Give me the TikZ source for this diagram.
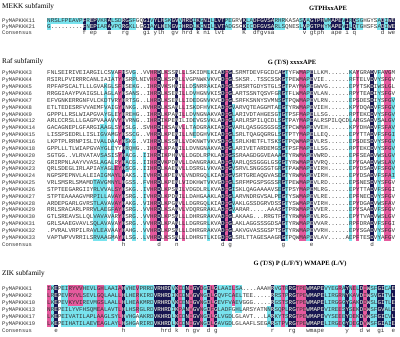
\documentclass[tikz,border=0pt]{standalone}
\usepackage{fontspec}
\setmainfont{Liberation Serif}
\newfontfamily\seqfont{Liberation Mono}
\usetikzlibrary{positioning}
\definecolor{alnavy}{HTML}{171551}
\definecolor{alpink}{HTML}{E65A9E}
\definecolor{alcyan}{HTML}{78E3EE}
\newcommand\seqsize{\seqfont\fontsize{5.92}{6}\selectfont\fontdimen2\font=0pt\fontdimen7\font=0pt\relax}
\newcommand\labsize{\seqfont\fontsize{5.5}{6}\selectfont}

\def\mekkseq{11/{NRSLFPEAVP FREPVKRALS DRGSFGQGIV YLHSKGVVHR DIKGNILLVT PEGRVKLADF GVSARHRKAS ASVAGTPHWM APEVIRQSGH GYSADIWE},
21/{G......... FNEPIARAVP QRGKLLGGIA YLHENGVIHR DLKCNILLVT ADGSCKICDF GVSARLSQNE SLVPGTPHYM APEVILQTGH SFSADIWE}}
\def\mekkcyan{0/9/0/0, 0/0/1/1, 11/11/0/1, 14/16/0/1, 18/20/0/1, 23/24/0/1, 29/29/0/1, 33/34/0/1, 37/37/0/1, 41/41/0/1, 43/43/0/1, 46/46/0/1, 50/51/0/1, 56/57/0/1, 64/66/0/1, 71/71/0/1, 73/73/0/1, 78/79/0/1, 83/83/0/1, 85/85/0/1, 87/88/0/1, 93/93/0/1, 95/95/0/1}
\def\mekknavy{10/10/0/1, 12/13/0/1, 17/17/0/1, 21/22/0/1, 27/28/0/1, 30/32/0/1, 35/36/0/1, 38/40/0/1, 42/42/0/1, 44/45/0/1, 47/49/0/1, 55/55/0/1, 58/63/0/1, 72/72/0/1, 74/77/0/1, 80/82/0/1, 84/84/0/1, 86/86/0/1, 94/94/0/1, 96/97/0/1}

\def\rafseq{3/{FNLSEIRIVE IARGILCSVA FHSVG..VVH RDLKSSNLLL SKIDMLKIAD FGLSRMTDEV FGCDCAGTYF WMAPELLKM. .....KAYGR ADVFAVGM},
4/{RSIRLPVIRR RCANLIAIAT YHSRPLNIVH RDLKSPNLLV GPNWKVKVCD FGLSKSR..T SSCSSKGTPE WMAPEVIE.. .....RFTEL VDVYSFGV},
5/{RPFAPSCALT LLLGVAKGLS FHSEKG..IH RDVKSHNILL DSNRRAKIAD FGLSRSRTGD YSTGLSGTPA YMAPEGWVG. .....EPYTS KDIWSLGL},
6/{RRGGIAAYPV AIGSLLAGLA YHSANS..IH RDLKSENILL DVHGNVKISD FGLARTSSNT QSVFGRGTFL WMAPEVLAN. .....RPYTE ADIYSFGV},
7/{EFVGNKERRG NFVLCKDTVR YHRTSG..LH RDLKSENLLI DEDGNVKVCD FGLSRFKSNN YSVMNSGTPQ WMAPEVLRN. .....EPSDE SDIYSFGV},
8/{ETLTEDESRF VVAEMFVAIG YHNKG..NVH RDLKSANLLI SKDFHVKIAD FGVARVQTEA GGMTAEGTYR WMAPEVIEH. .....KPYDQ ADVFSFGV},
9/{GPPPLLRSLW IAPGVAYGLE YHREHG..IH RDLKPANILL DVNGNAKVAD FGLARIVDTA HGESGTGTPS FMAPELLSG. .....RPTEK CDVYSFGV},
12/{ARLCCRSLLL GAGPVAAAVV YHVRNG..IH RDIKPENILI DEVGSVKLAD FGLARLRSPI LQCDLSGTPA YMAPEALRSP ILQCDLARGS ADVSALGV},
14/{GACAGNEPLG FARGIAAGLS YHSLG..SVH RDIKSANVLL TADGRAKIAD FGVARLQASG GSGSGSGTPC WMAPEVVEH. .....KPYDH ADVFSFAV},
15/{LISSPSEDRL LISLIGVAMG YHSSCG..VH RDLKPENILL NEDGHVKIAD FGLSRLTQAG QGRGLSGTPT YMAPELLEQ. .....EPYTT ADVFSFGI},
16/{LKPTPLRRNP ISLIVALDAA YHSKG..VIH RDLKSSNLLV DKNWTVKVSD FGLSRLKHET FLTSKSGTPQ WMAPEVLRS. .....EPSDE SDVYSFGV},
18/{GPPLLLTLWI APGVAYGLEY YHRQHG..IH RDLKPANILL DVNGNAKVAD FGLARIVETA RDEMGSGTPS FMAPELLSG. .....RPTEK CDVYSFGV},
20/{SGTGG..VLR VATAVSASIS YHACG..IIH RDIKPHNVLL DGDLRPKLAD FGSSRAAGDG GVEAAAGTYR WMAPEVWRD. .....EPFSE ADVWSLGV},
22/{GRIRPNLAAY VVASLAGALR YHACG..IIH RDVKPDNVLL DANGRAKLAD FGVARLQSSG GGLGSGGTYR WMAPEVVRQ. .....EPYGA ADVWSLAV},
23/{QRLSDEGLIR LAPIAYAGLE YHSCG..IIH RDLKAENVLL DSRGLVKVAD FGVSRVLSNG GSGTGRGTPA WMAPEVIRH. .....EPYDS ADVFSFGV},
24/{NGPSPEPNVL ALEIAIGMAY LHAKS..IVH RDLKPENVLV NDRGQLKIAD FGVSRTGREA QGVASEGTYR WMAPEVIRH. .....EPYDS ADVFSFAI},
25/{VRLSMSRLSM AMDTAVGMNY LHGSS..FVH RDLKPENLVI DKHWTVKVGD FGLSRFMPGS PSGSSRGTPE WMAPEVLRD. .....EPSNE SDVYSFGV},
26/{STPTEEGARG IIYRLVVALS YHSKG..IVH RDLKPSNILV DGDLRLKVAD FGISKLQAGA AAAVSEGTPS YMAPEMLRG. .....EPYTT ADVFSFGI},
27/{STPTEAAAAG VMRPILLAVA YHSRG..IVH RDLKPDNILL DAHGAAKLAD FGLARVNDRG VSALPEGTYS WMAPEVLRE. .....EPFNE CDVYSFGV},
28/{ARDEPGARLG VRSTLAVAVA YHAKG..VIH RDLKPGNVLL DGRGQLKIAD FGVAKLGSSD GRVDSSGTYS WMAPEVIRH. .....EPYDG ADVWSFAV},
29/{RRLSRACARL PRRVLAEGFA YHSRG..VVH RDLKSANVLV DQRGRAKLAD FGVARAR... ..AAASGTPR WMAPEVVER. .....EPYSA ADVFSFGV},
30/{GTLSREAVSL LQLVAVAVAR YHSRG..VVH RDLKPSNLLL DHRGRAKVAD FGLAKAAG.. .RRGTFGTYR WMAPEVLRG. .....EPYTV ADVWSLGV},
31/{GRLSAAEGVA VLSQLAVAVA YHSRG..VVH RDLKPANLLL DGRGRLKVAD FGLAKLAGGS SSGDSAGTYR WMAPEVVAR. .....RPFDR ADVFSFGI},
32/{.PVRALVRPI LRAVLEAVAA YHAHG..VVH RDLKPSNLLL DHRGRAKVAD FGLAKVGVAS SGSPTSGTYR WMAPEVVRH. .....EPYSG ADVYSFGV},
33/{VAPTWPVVRR ILSRVAAGMA YHLSG..LVH RDLKSSNLLL DHRGTLKIGD FGLSRLTTAG ESAAGRGTPQ WMAPEVLAV. ....AEPFTE SDVYAFGV}}
\def\rafcyan{15/15/8/24, 13/14/16/24, 16/16/2/24, 18/18/0/24, 22/22/10/14, 24/24/0/24, 27/27/12/24, 41/41/2/9, 45/45/0/24, 52/52/5/20, 65/65/3/18, 67/67/0/24, 73/73/0/24, 85/85/0/24, 93/93/0/24, 97/97/4/15}
\def\rafpink{19/19/14/20, 20/20/0/10, 20/20/12/24, 29/30/0/24, 33/33/0/24, 38/38/0/6, 38/38/8/24, 50/50/0/24, 71/72/0/24, 87/87/0/24, 95/96/0/24}
\def\rafnavy{21/21/0/24, 31/31/0/24, 36/36/0/24, 49/49/0/24, 51/51/0/24, 66/66/0/24, 74/74/0/24, 91/91/0/24}

\def\zikseq{1/{IKEPEIRYVV HEVLGHLAAI AHVHEVPRRD VRHRDVKCDN IGVDGDLGLA AILSA....A AAHRVGTRRG TPEWMAPEVY EGRAYNELDI WSFGICAE},
2/{LREPEVRYVL SEVLGQLAAL LHLHERKIRD VRHRDIKCDN VGVNGDLGQV FCAELTEE.. ...RRSTPRG TPEWMAPELI RGRNYKAVDI WSVGITVL},
10/{LKEPEVKYVI REVMGSLAAL LHLHEAKMRD VRHRDVKCEN IGVNGDLGEV FVAEVGGG.. ...RGSTSRG TPEWMAPELI RGGGYGAKDD WSLGITLE},
13/{NREPEILYVF HSQMEALAVT LHLHSRGLRD VRHRDIKPAN VGVNGDFGLA DFGHLARSYA TNNRSQPLRG TPEWMAPEVI REESYSEKDD WSFGVALE},
17/{LKEPEIVATI LAPLAAGLSY LHVHGAAKRD VKHRDLKCDN IGVNGDLGLV GDLGLAVT.. .LARKYTSRG TPEWMAPEVY SEEEYDEKDV WSFGICVL},
19/{LKEPEIHATI LAEVEAGLAY LHSHGARIRD VKHRDLKCDN IGVNGDLGAV GDLGLAAFLS EGARSTPVRG TPEWMAPELI RGEQYDEGDV WSFGIAIE}}
\def\zikcyan{1/1/0/5, 4/5/0/5, 6/9/3/5, 10/13/0/5, 16/19/0/5, 22/24/0/5, 26/29/0/5, 35/35/0/5, 38/38/0/5, 44/44/0/5, 48/51/0/5, 53/54/0/3, 62/62/3/5, 64/65/0/5, 67/67/0/5, 78/81/0/5, 83/83/0/5, 85/85/0/5, 87/87/0/5, 91/92/0/5, 95/96/0/5}
\def\zikpink{0/0/0/5, 6/9/0/2, 14/15/0/5, 20/20/0/5, 25/25/0/3, 37/37/0/5, 40/40/0/5, 43/43/0/5, 46/46/0/5, 52/52/0/2, 66/66/0/5, 70/72/0/5, 82/82/0/5, 86/86/0/5, 89/89/0/5}
\def\ziknavy{2/2/0/5, 21/21/0/5, 30/34/0/5, 36/36/0/5, 39/39/0/5, 41/42/0/5, 45/45/0/5, 47/47/0/5, 63/63/0/5, 68/69/0/5, 73/77/0/5, 84/84/0/5, 88/88/0/5, 90/90/0/5, 93/94/0/5, 97/97/0/5}

\begin{document}
\begin{tikzpicture}[x=1pt, y=-1pt,
  seq/.style={font=\seqsize, text=black!80, anchor=base west, inner sep=0pt, yshift=-2pt},
  lab/.style={font=\labsize, text=black!80, anchor=base west, inner sep=0pt},
  head/.style={font=\fontsize{7.2}{8}\selectfont, anchor=west, inner sep=0pt},
  motif/.style={font=\bfseries\fontsize{6.5}{7}\selectfont, inner sep=0pt}
]
\useasboundingbox (0,0) rectangle (400,337);

\node[head] (mekkt) at (2,7) {MEKK subfamily};
\node[motif] (mekkm) at (328,8) {GTPHxxAPE};
\begin{scope}[shift={(47,21)}, x=3.55pt, y=-6pt]
  \foreach \c/\d/\a/\b in \mekkcyan {\fill[alcyan] (\c,\a-.5) rectangle (\d+1,\b+.5);}
  \foreach \c/\d/\a/\b in \mekknavy {\fill[alnavy] (\c,\a-.5) rectangle (\d+1,\b+.5);}
  \foreach \n/\s [count=\i from 0] in \mekkseq {
    \node[seq] (mekk\n) at (0,\i) {\s};
    \node[lab] (mekkl\n) at ([xshift=-45pt]mekk\n.base west) {PyMAPKKK\n};
  }
  \begin{scope}
    \clip \foreach \c/\d/\a/\b in \mekknavy {(\c,\a-.5) rectangle (\d+1,\b+.5)};
    \foreach \n/\s [count=\i from 0] in \mekkseq {\node[seq, text=white] (mekkw\n) at (0,\i) {\s};}
  \end{scope}
  \foreach \c/\t in {10/f,12/ep,17/a,21/rg,27/gi,30/ylh,35/gv,38/hrd,42/k,44/ni,47/lvt,55/K,58/dfgvsa,72/v,74/gtph,80/ape,84/i,86/q,94/d,96/we}
    \node[seq] (mekkc\c) at (\c,2) {\t};
  \coordinate (mekkcb) at (0,2);
  \node[lab, yshift=-2pt] (mekkcl) at ([xshift=-45pt]mekkcb) {Consensus};
\end{scope}

\node[head] (raft) at (2,62) {Raf subfamily};
\node[motif] (rafm) at (292,63) {G (T/S) xxxxAPE};
\begin{scope}[shift={(47,73)}, x=3.55pt, y=-6.85pt]
  \foreach \c/\d/\a/\b in \rafcyan {\fill[alcyan] (\c,\a-.5) rectangle (\d+1,\b+.5);}
  \foreach \c/\d/\a/\b in \rafpink {\fill[alpink] (\c,\a-.5) rectangle (\d+1,\b+.5);}
  \foreach \c/\d/\a/\b in \rafnavy {\fill[alnavy] (\c,\a-.5) rectangle (\d+1,\b+.5);}
  \foreach \n/\s [count=\i from 0] in \rafseq {
    \node[seq] (raf\n) at (0,\i) {\s};
    \node[lab] (rafl\n) at ([xshift=-45pt]raf\n.base west) {PyMAPKKK\n};
  }
  \begin{scope}
    \clip \foreach \c/\d/\a/\b in \rafnavy {(\c,\a-.5) rectangle (\d+1,\b+.5)};
    \foreach \n/\s [count=\i from 0] in \rafseq {\node[seq, text=white] (rafw\n) at (0,\i) {\s};}
  \end{scope}
  \foreach \c/\t in {21/h,31/d,36/n,49/d,51/g,66/g,74/e,91/d}
    \node[seq] (rafc\c) at (\c,25) {\t};
  \coordinate (rafcb) at (0,25);
  \node[lab, yshift=-2pt] (rafcl) at ([xshift=-45pt]rafcb) {Consensus};
\end{scope}

\node[head] (zikt) at (2,274) {ZIK subfamily};
\node[motif] (zikm) at (300,264) {G (T/S) P (L/F/Y) WMAPE (L/V)};
\begin{scope}[shift={(47,289)}, x=3.55pt, y=-7pt]
  \foreach \c/\d/\a/\b in \zikcyan {\fill[alcyan] (\c,\a-.5) rectangle (\d+1,\b+.5);}
  \foreach \c/\d/\a/\b in \zikpink {\fill[alpink] (\c,\a-.5) rectangle (\d+1,\b+.5);}
  \foreach \c/\d/\a/\b in \ziknavy {\fill[alnavy] (\c,\a-.5) rectangle (\d+1,\b+.5);}
  \foreach \n/\s [count=\i from 0] in \zikseq {
    \node[seq] (zik\n) at (0,\i) {\s};
    \node[lab] (zikl\n) at ([xshift=-45pt]zik\n.base west) {PyMAPKKK\n};
  }
  \begin{scope}
    \clip \foreach \c/\d/\a/\b in \ziknavy {(\c,\a-.5) rectangle (\d+1,\b+.5)};
    \foreach \n/\s [count=\i from 0] in \zikseq {\node[seq, text=white] (zikw\n) at (0,\i) {\s};}
  \end{scope}
  \foreach \c/\t in {2/e,21/h,32/hrd,36/k,39/n,41/gv,45/d,47/g,63/r,68/rg,73/wmape,84/y,88/d,90/w,93/gi,97/e}
    \node[seq] (zikc\c) at (\c,6) {\t};
  \coordinate (zikcb) at (0,6);
  \node[lab, yshift=-2pt] (zikcl) at ([xshift=-45pt]zikcb) {Consensus};
\end{scope}
\end{tikzpicture}
\end{document}
